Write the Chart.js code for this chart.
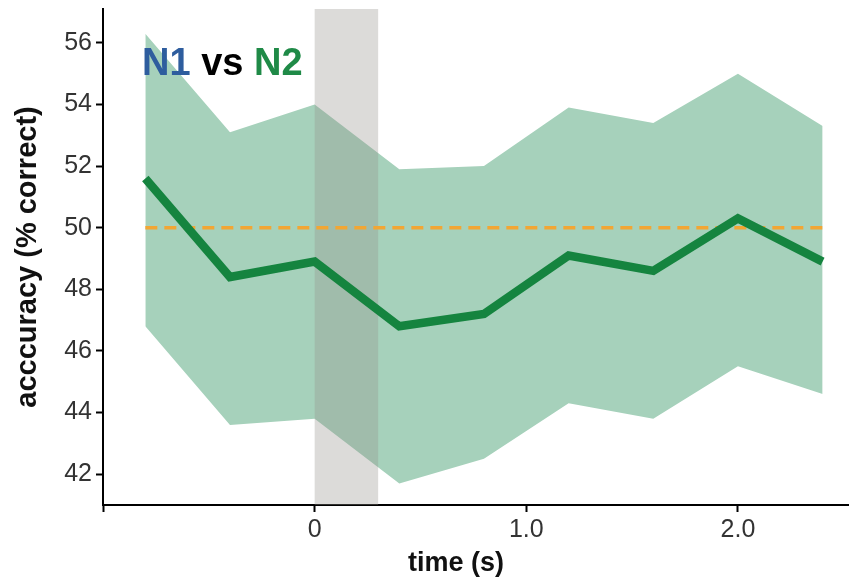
<!DOCTYPE html>
<html>
<head>
<meta charset="utf-8">
<script src="https://cdn.jsdelivr.net/npm/chart.js@4/dist/chart.umd.min.js"></script>
<style>
  html, body { margin: 0; padding: 0; background: #fff; }
  #wrap { width: 849px; height: 582px; position: relative; }
</style>
</head>
<body>
<div id="wrap"><canvas id="accChart"></canvas></div>
<script>
// --- data ---
const timePoints = [-0.8, -0.4, 0, 0.4, 0.8, 1.2, 1.6, 2.0, 2.4];
const meanAcc = [51.6, 48.4, 48.9, 46.8, 47.2, 49.1, 48.6, 50.3, 48.9];
const upperCI = [56.3, 53.1, 54.0, 51.9, 52.0, 53.9, 53.4, 55.0, 53.3];
const lowerCI = [46.8, 43.6, 43.8, 41.7, 42.5, 44.3, 43.8, 45.5, 44.6];
const chanceLevel = 50;
const stimWindow = [0, 0.3];

const xTickValues = [-1, 0, 1, 2];
const xTickLabels = ["", "0", "1.0", "2.0"];
const yTickValues = [42, 44, 46, 48, 50, 52, 54, 56];

const FONT = '"Liberation Sans", Arial, sans-serif';

const toXY = (vals) => timePoints.map((t, i) => ({ x: t, y: vals[i] }));

// grey box for the stimulus window, drawn over the CI band but under the lines
const stimBox = {
  id: "stimBox",
  beforeDatasetDraw(chart, args) {
    if (args.index !== 1) return;
    const { ctx, chartArea, scales } = chart;
    const x0 = scales.x.getPixelForValue(stimWindow[0]);
    const x1 = scales.x.getPixelForValue(stimWindow[1]);
    ctx.save();
    ctx.fillStyle = "rgba(150,145,140,0.33)";
    ctx.fillRect(x0, chartArea.top, x1 - x0, chartArea.bottom - chartArea.top);
    ctx.restore();
  }
};

// panel title + x label
const labels = {
  id: "labels",
  afterDraw(chart) {
    const { ctx } = chart;
    ctx.save();
    ctx.font = "bold 38px " + FONT;
    ctx.textBaseline = "alphabetic";
    ctx.textAlign = "left";
    let x = 142;
    const parts = [["N1", "#2e5d9e"], [" vs ", "#000000"], ["N2", "#1f8a47"]];
    parts.forEach(([txt, col]) => {
      ctx.fillStyle = col;
      ctx.fillText(txt, x, 75);
      x += ctx.measureText(txt).width;
    });
    ctx.font = "bold 27px " + FONT;
    ctx.fillStyle = "#111";
    ctx.textAlign = "center";
    ctx.textBaseline = "middle";
    ctx.fillText("time (s)", 456, 564);
    ctx.restore();
  }
};

const ctx = document.getElementById("accChart").getContext("2d");
new Chart(ctx, {
  type: "line",
  data: {
    datasets: [
      { label: "mean", data: toXY(meanAcc), borderColor: "#15843f", borderWidth: 8.5,
        pointRadius: 0, fill: false, order: 0, borderJoinStyle: "miter" },
      { label: "chance", data: [{ x: timePoints[0], y: chanceLevel }, { x: timePoints[timePoints.length - 1], y: chanceLevel }],
        borderColor: "#f2a634", borderWidth: 3.5, borderDash: [12, 7], pointRadius: 0, fill: false, order: 1 },
      { label: "upper", data: toXY(upperCI), borderWidth: 0, pointRadius: 0,
        backgroundColor: "#a6d1bb", fill: "+1", order: 2 },
      { label: "lower", data: toXY(lowerCI), borderWidth: 0, pointRadius: 0, fill: false, order: 3 }
    ]
  },
  options: {
    responsive: true,
    maintainAspectRatio: false,
    animation: false,
    layout: { padding: { top: 9, right: 1, left: 0, bottom: 0 } },
    plugins: { legend: { display: false }, tooltip: { enabled: false } },
    scales: {
      x: {
        type: "linear",
        min: -1.0,
        max: 2.52,
        afterBuildTicks: (s) => { s.ticks = xTickValues.map(v => ({ value: v })); },
        afterFit: (s) => { s.height = 77; s.paddingLeft = 0; s.paddingRight = 0; },
        grid: { display: true, drawOnChartArea: false, drawTicks: true, tickLength: 7, tickWidth: 2, tickColor: "#000" },
        border: { display: true, color: "#000", width: 2 },
        ticks: {
          padding: 3,
          color: "#333",
          font: { family: FONT, size: 25 },
          maxRotation: 0,
          callback: (v, i) => xTickLabels[i]
        },
        title: { display: false }
      },
      y: {
        min: 41,
        max: 57.1,
        afterBuildTicks: (s) => { s.ticks = yTickValues.map(v => ({ value: v })); },
        afterFit: (s) => { s.width = 103; s.paddingTop = 0; s.paddingBottom = 0; },
        grid: { display: true, drawOnChartArea: false, drawTicks: true, tickLength: 7, tickWidth: 2, tickColor: "#000" },
        border: { display: true, color: "#000", width: 2 },
        ticks: {
          padding: 4,
          color: "#333",
          font: { family: FONT, size: 25 },
          callback: (v) => String(v)
        },
        title: {
          display: true,
          text: "acccuracy (% correct)",
          color: "#111",
          font: { family: FONT, size: 29, weight: "bold" },
          padding: { top: 11, bottom: 0 }
        }
      }
    }
  },
  plugins: [stimBox, labels]
});
</script>
</body>
</html>
